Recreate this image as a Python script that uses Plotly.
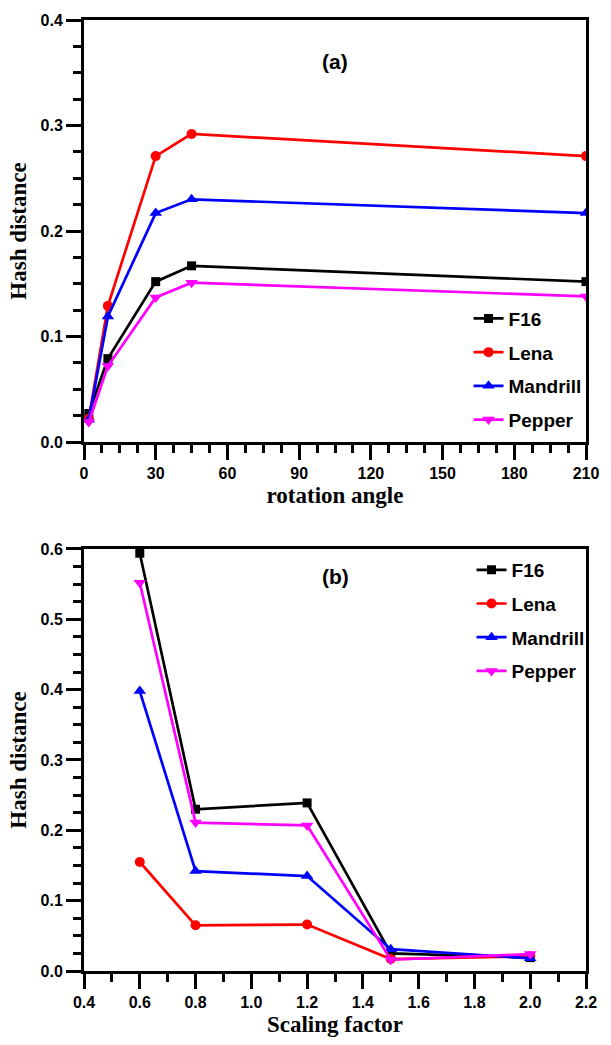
import plotly.graph_objects as go

# ---- data ----
series_names = ["F16", "Lena", "Mandrill", "Pepper"]
series_colors = ["#000000", "#FF0000", "#0000FF", "#FF00FF"]
series_symbols = ["square", "circle", "triangle-up", "triangle-down"]
series_sizes = [9, 10, 11, 11]

rotation_angle = [2, 10, 30, 45, 210]
rot_F16 = [0.027, 0.079, 0.152, 0.167, 0.152]
rot_Lena = [0.022, 0.129, 0.271, 0.292, 0.271]
rot_Mandrill = [0.021, 0.119, 0.217, 0.230, 0.217]
rot_Pepper = [0.019, 0.072, 0.137, 0.151, 0.138]

scaling_factor = [0.6, 0.8, 1.2, 1.5, 2.0]
sc_F16 = [0.594, 0.230, 0.239, 0.025, 0.019]
sc_Lena = [0.155, 0.065, 0.066, 0.017, 0.021]
sc_Mandrill = [0.398, 0.142, 0.135, 0.031, 0.018]
sc_Pepper = [0.552, 0.211, 0.207, 0.016, 0.024]

rot_tickvals = [0, 30, 60, 90, 120, 150, 180, 210]
rot_yticks = [0.0, 0.1, 0.2, 0.3, 0.4]
sc_tickvals = [0.4, 0.6, 0.8, 1.0, 1.2, 1.4, 1.6, 1.8, 2.0, 2.2]
sc_yticks = [0.0, 0.1, 0.2, 0.3, 0.4, 0.5, 0.6]

rot_series = [rot_F16, rot_Lena, rot_Mandrill, rot_Pepper]
sc_series = [sc_F16, sc_Lena, sc_Mandrill, sc_Pepper]

fig = go.Figure()

for i, name in enumerate(series_names):
    fig.add_trace(go.Scatter(
        x=rotation_angle, y=rot_series[i], name=name, mode="lines+markers",
        line=dict(color=series_colors[i], width=2.7),
        marker=dict(symbol=series_symbols[i], size=series_sizes[i], color=series_colors[i]),
        xaxis="x", yaxis="y", legend="legend", legendgroup="a" + name,
    ))
for i, name in enumerate(series_names):
    fig.add_trace(go.Scatter(
        x=scaling_factor, y=sc_series[i], name=name, mode="lines+markers",
        line=dict(color=series_colors[i], width=2.7),
        marker=dict(symbol=series_symbols[i], size=series_sizes[i], color=series_colors[i]),
        xaxis="x2", yaxis="y2", legend="legend2", legendgroup="b" + name,
    ))

tickfont = dict(family="Liberation Sans", size=16, color="black", weight="bold")
titlefont = dict(family="Liberation Serif", size=23, color="black", weight="bold")
legfont = dict(family="Liberation Sans", size=19, color="black", weight="bold")

common = dict(
    showline=True, linewidth=3, linecolor="black", mirror=True,
    ticks="outside", ticklen=15, tickwidth=2.5, tickcolor="black",
    showgrid=False, zeroline=False, tickfont=tickfont,
)

fig.update_layout(
    width=611, height=1045,
    margin=dict(l=84, r=15, t=14, b=71),
    paper_bgcolor="white", plot_bgcolor="white",
    xaxis=dict(domain=[0, 1], anchor="y", range=[0, 210], tickvals=rot_tickvals,
               minor=dict(dtick=7.5, ticklen=8, tickwidth=2.5, tickcolor="black", ticks="outside"),
               title=dict(text="rotation angle", font=titlefont, standoff=6), **common),
    yaxis=dict(domain=[0.55625, 1.0], anchor="x", range=[0, 0.4], tickvals=rot_yticks,
               tickformat=".1f",
               minor=dict(dtick=0.025, ticklen=8, tickwidth=2.5, tickcolor="black", ticks="outside"),
               title=dict(text="Hash distance", font=titlefont, standoff=8), **common),
    xaxis2=dict(domain=[0, 1], anchor="y2", range=[0.4, 2.2], tickvals=sc_tickvals,
                tickformat=".1f",
                minor=dict(dtick=0.1, ticklen=8, tickwidth=2.5, tickcolor="black", ticks="outside"),
                title=dict(text="Scaling factor", font=titlefont, standoff=6), **common),
    yaxis2=dict(domain=[0.0, 0.44375], anchor="x2", range=[0, 0.6], tickvals=sc_yticks,
                tickformat=".1f",
                minor=dict(dtick=0.025, ticklen=8, tickwidth=2.5, tickcolor="black", ticks="outside"),
                title=dict(text="Hash distance", font=titlefont, standoff=8), **common),
    legend=dict(x=0.766, y=0.706, xanchor="left", yanchor="top", font=legfont,
                bgcolor="rgba(0,0,0,0)", tracegroupgap=6),
    legend2=dict(x=0.772, y=0.4417, xanchor="left", yanchor="top", font=legfont,
                 bgcolor="rgba(0,0,0,0)", tracegroupgap=6),
    annotations=[
        dict(text="(a)", x=0.5, y=0.971, xref="paper", yref="paper", showarrow=False,
             font=dict(family="Liberation Sans", size=21, color="black", weight="bold")),
        dict(text="(b)", x=0.5, y=0.4146, xref="paper", yref="paper", showarrow=False,
             font=dict(family="Liberation Sans", size=21, color="black", weight="bold")),
    ],
)

fig.write_html("out.html")
